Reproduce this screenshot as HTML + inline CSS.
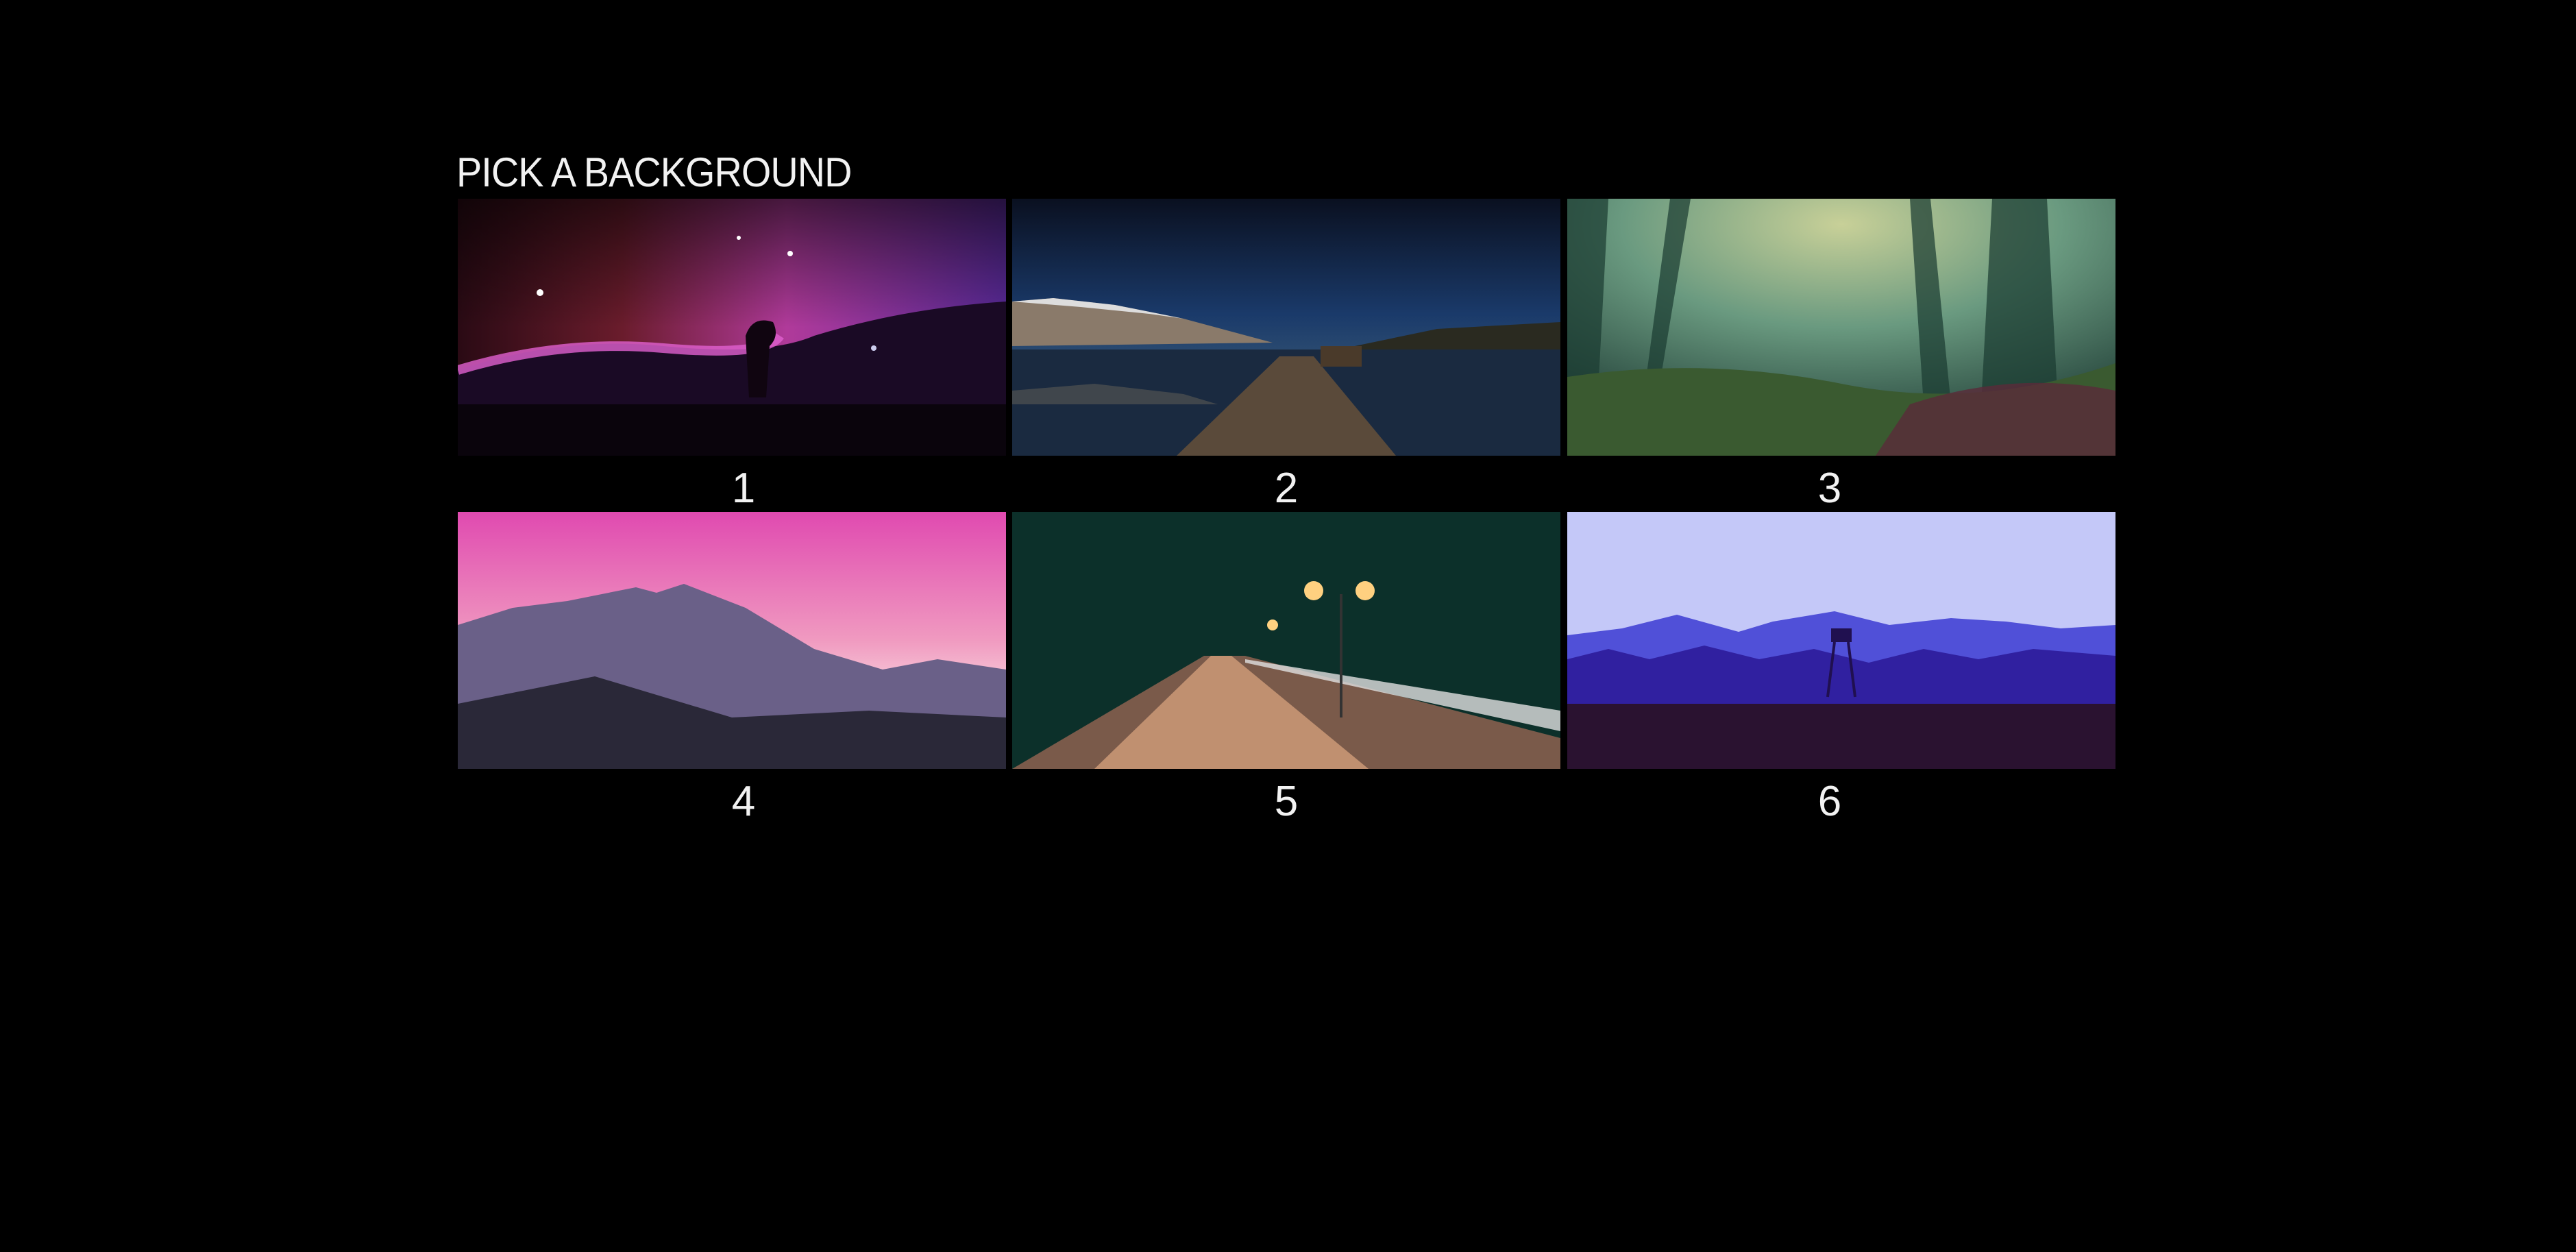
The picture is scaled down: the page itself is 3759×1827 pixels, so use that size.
<!DOCTYPE html>
<html><head><meta charset="utf-8"><style>
html,body{margin:0;padding:0;background:#000;width:3759px;height:1827px;overflow:hidden;font-family:"Liberation Sans",sans-serif;color:#fff}
.title{position:absolute;left:666px;top:222px;font-size:60px;font-weight:normal;letter-spacing:-1px;line-height:60px;white-space:nowrap;transform:scaleX(0.93);transform-origin:0 0;color:#f2f2f2}
.tile{position:absolute;width:800px;height:375px;overflow:hidden;cursor:pointer}
.tile svg{display:block}
.lbl{position:absolute;width:800px;text-align:center;font-size:62px;line-height:62px;color:#f2f2f2}
</style></head><body>
<div class="title">PICK A BACKGROUND</div>

<div class="tile" style="left:668px;top:290px">
<svg width="800" height="375" viewBox="0 0 800 375"><defs>
<linearGradient id="g1" x1="0" y1="0" x2="1" y2="0"><stop offset="0" stop-color="#2a0a14"/><stop offset=".3" stop-color="#6a1c2c"/><stop offset=".6" stop-color="#b03a9a"/><stop offset="1" stop-color="#5a2a9a"/></linearGradient>
<linearGradient id="g1b" x1="0" y1="0" x2="0" y2="1"><stop offset="0" stop-color="#000" stop-opacity=".6"/><stop offset=".5" stop-color="#000" stop-opacity="0"/><stop offset="1" stop-color="#000" stop-opacity="0"/></linearGradient></defs>
<rect width="800" height="375" fill="url(#g1)"/><rect width="800" height="375" fill="url(#g1b)"/>
<path d="M0 250 Q150 200 300 215 T520 200 Q650 160 800 150 L800 375 L0 375Z" fill="#1a0a25"/>
<path d="M0 250 Q150 205 300 218 T470 200" stroke="#e060d0" stroke-width="14" fill="none" opacity=".8"/>
<path d="M420 200 Q430 170 460 180 Q470 200 455 215 L450 290 L425 290Z" fill="#100510"/>
<rect y="300" width="800" height="75" fill="#0a040c"/>
<circle cx="120" cy="137" r="5" fill="#fff"/><circle cx="485" cy="80" r="4" fill="#fff"/><circle cx="607" cy="218" r="4" fill="#cce"/><circle cx="410" cy="57" r="3" fill="#fff"/>
</svg></div>
<div class="lbl" style="left:685px;top:682px">1</div>

<div class="tile" style="left:1477px;top:290px">
<svg width="800" height="375" viewBox="0 0 800 375"><defs>
<linearGradient id="g2" x1="0" y1="0" x2="0" y2="1"><stop offset="0" stop-color="#0a1020"/><stop offset=".45" stop-color="#1a3a6a"/><stop offset=".6" stop-color="#2a4a70"/><stop offset="1" stop-color="#0a1420"/></linearGradient></defs>
<rect width="800" height="375" fill="url(#g2)"/>
<path d="M0 150 L60 145 L150 155 L250 175 L380 210 L0 215Z" fill="#8a7a6a"/>
<path d="M0 150 L60 145 L150 155 L250 175 L200 168 L100 158Z" fill="#ddd"/>
<path d="M500 215 L620 190 L800 180 L800 222 L500 222Z" fill="#2a2a20"/>
<rect y="220" width="800" height="155" fill="#1a2a40"/>
<path d="M0 280 L120 270 L250 285 L300 300 L0 300Z" fill="#5a5a55" opacity=".6"/>
<path d="M390 230 L440 230 L560 375 L240 375Z" fill="#5a4a3a"/>
<rect x="450" y="215" width="60" height="30" fill="#4a3a2a"/>
</svg></div>
<div class="lbl" style="left:1477px;top:682px">2</div>

<div class="tile" style="left:2287px;top:290px">
<svg width="800" height="375" viewBox="0 0 800 375"><defs>
<radialGradient id="g3" cx=".5" cy=".1" r=".8"><stop offset="0" stop-color="#c8d098"/><stop offset=".5" stop-color="#6a9a80"/><stop offset="1" stop-color="#2a4a40"/></radialGradient></defs>
<rect width="800" height="375" fill="url(#g3)"/>
<path d="M0 0 L60 0 L40 375 L0 375Z M620 0 L700 0 L720 375 L600 375Z M500 0 L530 0 L560 300 L520 300Z M150 0 L180 0 L130 300 L110 300Z" fill="#1a3a30" opacity=".7"/>
<path d="M0 260 Q200 230 400 270 T800 240 L800 375 L0 375Z" fill="#3a5a30"/>
<path d="M500 300 Q650 250 800 280 L800 375 L450 375Z" fill="#5a2a3a" opacity=".8"/>
</svg></div>
<div class="lbl" style="left:2270px;top:682px">3</div>

<div class="tile" style="left:668px;top:747px">
<svg width="800" height="375" viewBox="0 0 800 375"><defs>
<linearGradient id="g4" x1="0" y1="0" x2="0" y2="1"><stop offset="0" stop-color="#e04ab0"/><stop offset=".5" stop-color="#f09ac0"/><stop offset=".8" stop-color="#fce8e8"/></linearGradient></defs>
<rect width="800" height="375" fill="url(#g4)"/>
<path d="M0 165 L80 140 L160 130 L260 110 L290 118 L330 105 L420 140 L520 200 L620 230 L700 215 L800 230 L800 375 L0 375Z" fill="#6a6088"/>
<path d="M0 280 L200 240 L400 300 L600 290 L800 300 L800 375 L0 375Z" fill="#2a2838"/>
</svg></div>
<div class="lbl" style="left:685px;top:1139px">4</div>

<div class="tile" style="left:1477px;top:747px">
<svg width="800" height="375" viewBox="0 0 800 375">
<rect width="800" height="375" fill="#0c302a"/>
<path d="M0 375 L280 210 L340 210 L800 330 L800 375Z" fill="#7a5a4a"/>
<path d="M120 375 L290 210 L320 210 L520 375Z" fill="#c09070"/>
<path d="M340 215 L800 290 L800 320 L340 220Z" fill="#e0e0e0" opacity=".8"/>
<line x1="480" y1="120" x2="480" y2="300" stroke="#333" stroke-width="4"/>
<circle cx="440" cy="115" r="14" fill="#ffd080"/><circle cx="515" cy="115" r="14" fill="#ffd080"/>
<circle cx="380" cy="165" r="8" fill="#ffd080"/>
</svg></div>
<div class="lbl" style="left:1477px;top:1139px">5</div>

<div class="tile" style="left:2287px;top:747px">
<svg width="800" height="375" viewBox="0 0 800 375">
<rect width="800" height="375" fill="#c4c8f8"/>
<path d="M0 180 L80 170 L160 150 L250 175 L300 160 L390 145 L470 165 L560 155 L640 160 L720 170 L800 165 L800 260 L0 260Z" fill="#5050d8"/>
<path d="M0 215 L60 200 L120 215 L200 195 L280 215 L360 200 L440 220 L520 200 L600 215 L680 200 L800 210 L800 300 L0 300Z" fill="#3020a0"/>
<rect y="280" width="800" height="95" fill="#2a1230"/>
<rect x="385" y="170" width="30" height="20" fill="#201050"/><line x1="390" y1="190" x2="380" y2="270" stroke="#201050" stroke-width="4"/><line x1="410" y1="190" x2="420" y2="270" stroke="#201050" stroke-width="4"/>
</svg></div>
<div class="lbl" style="left:2270px;top:1139px">6</div>
</body></html>
